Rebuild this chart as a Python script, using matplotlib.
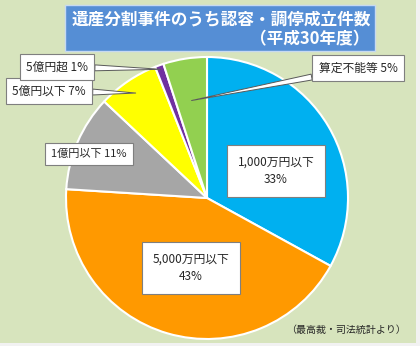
import numpy as np
import matplotlib
matplotlib.use("Agg")
import matplotlib.pyplot as plt
from matplotlib.patches import Rectangle

plt.rcParams['font.family'] = ['Noto Sans CJK JP', 'DejaVu Sans']

categories = ["1,000万円以下", "5,000万円以下", "1億円以下", "5億円以下", "5億円超", "算定不能等"]
values = [33, 43, 11, 7, 1, 5]
colors = ["#00B0F0", "#FF9900", "#A6A6A6", "#FFFF00", "#7030A0", "#92D050"]
title1 = "遺産分割事件のうち認容・調停成立件数"
title2 = "（平成30年度）"
source = "（最高裁・司法統計より）"

W, H = 420, 346
fig = plt.figure(figsize=(W / 100, H / 100), dpi=100)
fig.patch.set_facecolor("#D7E4BD")

def fx(x):
    return x / W

def fy(y):
    return 1 - y / H

# outer sheet strips (Excel cells)
fig.patches.append(Rectangle((0, 0), 1, 3 / H, transform=fig.transFigure,
                             facecolor="#F2F2F2", edgecolor="none"))
fig.patches.append(Rectangle((fx(416), 0), 4 / W, 1, transform=fig.transFigure,
                             facecolor="#F2F2F2", edgecolor="none"))

cx, cy, r = 207, 198, 141
ax = fig.add_axes([fx(cx - r), fy(cy + r), 2 * r / W, 2 * r / H])

wedges, _ = ax.pie(values, colors=colors, startangle=90, counterclock=False,
                   radius=1, wedgeprops=dict(edgecolor="white", linewidth=1.5))
ax.set_xlim(-1, 1)
ax.set_ylim(-1, 1)
ax.set_aspect("equal")
ax.axis("off")

total = sum(values)
pct = [f"{round(v / total * 100)}%" for v in values]

fs = 8.5
box = dict(boxstyle="square,pad=0.55", facecolor="white", edgecolor="#7F7F7F", linewidth=0.8)
box2 = dict(boxstyle="square,pad=0.9", facecolor="white", edgecolor="#7F7F7F", linewidth=0.8)

def mid_point(i, frac):
    w = wedges[i]
    ang = np.deg2rad((w.theta1 + w.theta2) / 2)
    return (frac * np.cos(ang), frac * np.sin(ang))

fig.text(fx(276), fy(171), f"{categories[0]}\n{pct[0]}", ha="center", va="center",
         fontsize=fs, color="#262626", bbox=box2, linespacing=1.5)
fig.text(fx(191), fy(268), f"{categories[1]}\n{pct[1]}", ha="center", va="center",
         fontsize=fs, color="#262626", bbox=box2, linespacing=1.5)
fig.text(fx(89), fy(154), f"{categories[2]} {pct[2]}", ha="center", va="center",
         fontsize=fs - 0.5, color="#262626", bbox=box)

def callout(i, frac, tx, ty):
    ax.annotate(f"{categories[i]} {pct[i]}", xy=mid_point(i, frac), xycoords="data",
                xytext=(fx(tx), fy(ty)), textcoords="figure fraction",
                ha="center", va="center", fontsize=fs, color="#262626",
                bbox=box, arrowprops=dict(arrowstyle="wedge,tail_width=0.5",
                                          facecolor="white", edgecolor="#595959",
                                          linewidth=0.7, shrinkA=0, shrinkB=0))

callout(3, 0.9, 49, 91)
callout(4, 0.97, 57, 67)
callout(5, 0.7, 358, 68)

# title box
fig.patches.append(Rectangle((fx(65), fy(51)), (375 - 65) / W, 46 / H,
                             transform=fig.transFigure, facecolor="#558ED5",
                             edgecolor="#C6D9F1", linewidth=1))
fig.text(fx(221), fy(19), title1, ha="center", va="center", color="white",
         fontsize=12, fontweight="bold")
fig.text(fx(369), fy(39), title2, ha="right", va="center", color="white",
         fontsize=12, fontweight="bold")

fig.text(fx(406), fy(330), source, ha="right", va="center", color="#262626", fontsize=7.2)

fig.savefig("out.png", dpi=100, facecolor=fig.get_facecolor())
